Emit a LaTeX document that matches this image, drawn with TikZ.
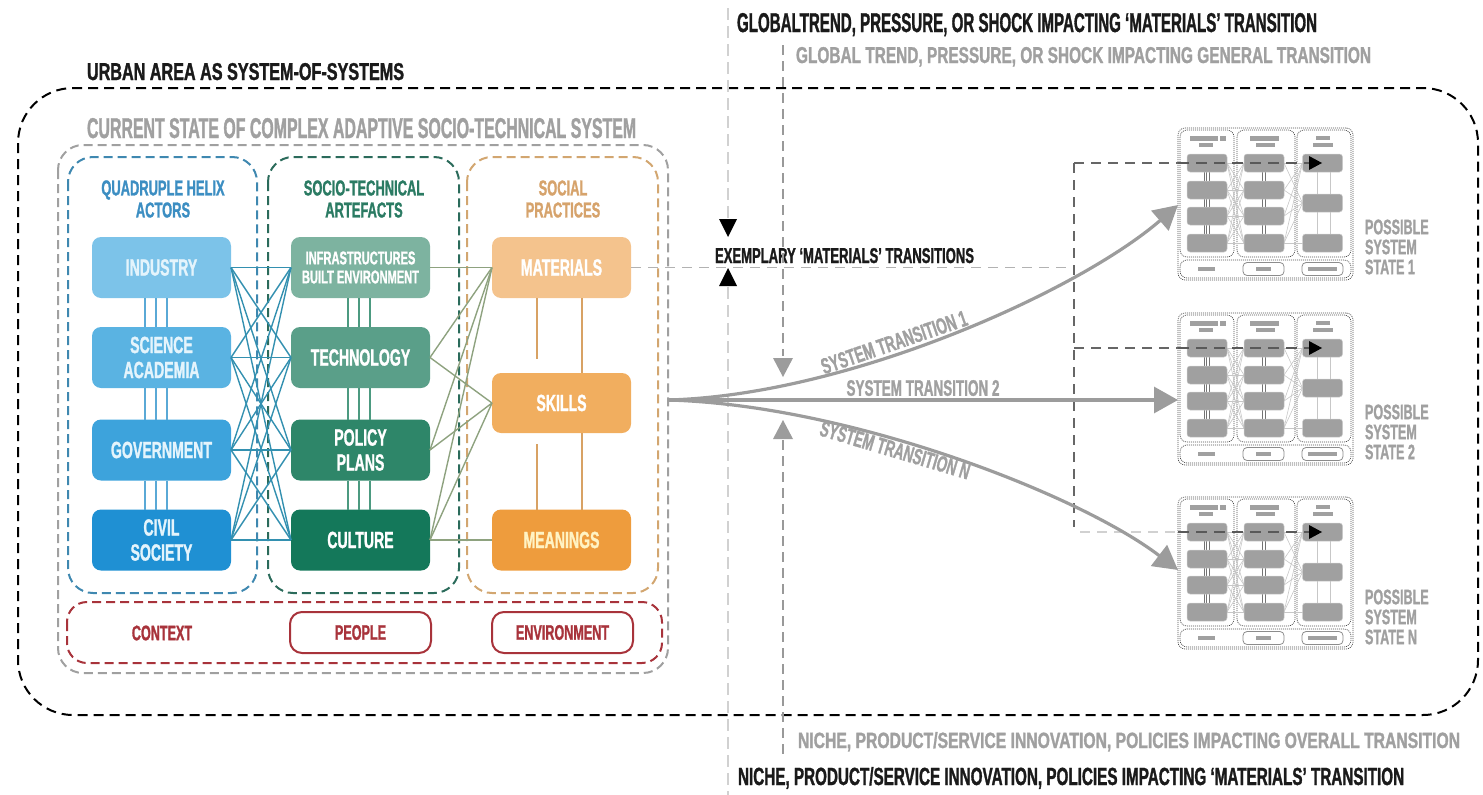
\documentclass[tikz,border=0pt]{standalone}
\usepackage{fontspec}
\usepackage{graphicx}
\setmainfont{Liberation Sans}
\newfontfamily\cond{Liberation Sans}[FakeStretch=0.6, FakeBold=1.2]
\usetikzlibrary{arrows.meta}

% palette
\definecolor{blueA}{HTML}{7CC3E9}
\definecolor{blueB}{HTML}{5AB3E2}
\definecolor{blueC}{HTML}{3DA3DC}
\definecolor{blueD}{HTML}{1F90D3}
\definecolor{greenA}{HTML}{7DB3A0}
\definecolor{greenB}{HTML}{5A9F89}
\definecolor{greenC}{HTML}{2E8669}
\definecolor{greenD}{HTML}{14785A}
\definecolor{orA}{HTML}{F4C38D}
\definecolor{orB}{HTML}{F1AE5F}
\definecolor{orC}{HTML}{EE9C3D}
\definecolor{bluetext}{HTML}{E4F4FC}
\definecolor{meantext}{HTML}{FFF3C4}
\definecolor{blueframe}{HTML}{3F88B0}
\definecolor{greenframe}{HTML}{2B6B5B}
\definecolor{orframe}{HTML}{D2A670}
\definecolor{redframe}{HTML}{A8333B}
\definecolor{grayframe}{HTML}{A0A0A0}
\definecolor{bluehead}{HTML}{3C8EC2}
\definecolor{greenhead}{HTML}{2B7B63}
\definecolor{orhead}{HTML}{D6A36C}
\definecolor{webblue}{HTML}{3390B0}
\definecolor{webgreen}{HTML}{8EA27F}
\definecolor{bluetri}{HTML}{5AA9D6}
\definecolor{greentri}{HTML}{4C9A80}
\definecolor{ortri}{HTML}{D8A264}
\definecolor{arrowgray}{HTML}{9C9C9C}
\definecolor{textgray}{HTML}{A0A0A0}
\definecolor{inkblack}{HTML}{1A1A1A}
\definecolor{mgray}{HTML}{A0A0A0}

\newcommand\cfont[2]{\cond\bfseries\fontsize{#1}{#2}\selectfont}
\newcommand\headline[3]{\resizebox{#1}{#2}{\cond\bfseries #3}}

\tikzset{
  every node/.style={inner sep=0pt, outer sep=0pt},
  cell/.style={rounded corners=9pt, minimum width=139pt, minimum height=61pt,
    text=white, align=center, font={\cfont{23.5}{25}}},
  frame/.style={line width=2pt, dash pattern=on 9pt off 5pt},
  web/.style={draw=webblue, line width=1.4pt},
  web2/.style={draw=webgreen, line width=1.4pt},
  trip/.style={line width=2pt},
  orline/.style={draw=ortri, line width=1.6pt},
  head/.style={align=center, font={\cfont{21.5}{22}}},
  ctxbox/.style={draw=redframe, line width=2pt, rounded corners=12pt,
    minimum width=141pt, minimum height=41pt, text=redframe, font={\cfont{21}{22}}},
  route/.style={draw=black!60, line width=1.2pt, dash pattern=on 10pt off 7pt},
  guideA/.style={draw=black!18, line width=1.2pt, dash pattern=on 12pt off 6pt},
  guideB/.style={draw=black!40, line width=1.2pt, dash pattern=on 10pt off 6pt},
  trarrow/.style={draw=arrowgray, line width=3.2pt,
    -{Triangle[length=24pt,width=26pt]}},
  trlabel/.style={font={\cfont{22.5}{22}}, text=textgray, sloped, inner sep=2pt},
  statelabel/.style={anchor=west, align=left, text=textgray, font={\cfont{21}{20}}},
  mframe/.style={draw=black!70, dash pattern=on 1pt off 1pt, line width=0.7pt,
    rounded corners=7pt},
  mnode/.style={fill=mgray, draw=black!20, line width=0.5pt, rounded corners=3pt,
    minimum width=40pt, minimum height=18pt},
  mlink/.style={draw=black!22, line width=0.6pt},
  mbar/.style={draw=black!55, line width=0.6pt},
  mthread/.style={draw=black!65, line width=1.4pt, dash pattern=on 11pt off 7pt},
  % miniature of one possible system state
  ministate/.pic={
    \node[mframe, minimum width=175pt, minimum height=152pt, anchor=north west] (-box) at (0,0) {};
    \draw[mframe] (2,2) rectangle (56,129);
    \draw[mframe] (59,2) rectangle (117,129);
    \draw[mframe] (119,2) rectangle (173,129);
    \draw[mframe] (2,132) rectangle (173,150);
    \fill[mgray] (12,8) rectangle (40,12.5);
    \fill[mgray] (41.5,8) rectangle (48,12.5);
    \fill[mgray] (21,15) rectangle (35,19);
    \fill[mgray] (72,8) rectangle (101,12.5);
    \fill[mgray] (78,15) rectangle (97,19);
    \fill[mgray] (138,8) rectangle (152,12);
    \fill[mgray] (135,15) rectangle (155,19);
    \foreach \i in {35,62,88,115}{\foreach \j in {35,62,88,115}{\draw[mlink] (49,\i) -- (66,\j);}}
    \foreach \i in {35,62,88,115}{\foreach \j in {35,75}{\draw[mlink] (106,\i) -- (124.5,\j);}}
    \draw[mlink] (106,115) -- (124.5,115);
    \foreach \x in {26,28.5,31}{\draw[mbar] (\x,35) -- (\x,115);}
    \foreach \x in {84,87.5}{\draw[mbar] (\x,35) -- (\x,115);}
    \foreach \x in {139,152}{\draw[mlink] (\x,35) -- (\x,115);}
    \foreach \r [count=\k] in {35,62,88,115}{
      \node[mnode] (-a\k) at (29,\r) {};
      \node[mnode] (-b\k) at (86,\r) {};
    }
    \foreach \r [count=\k] in {35,75,115}{\node[mnode] (-c\k) at (144.5,\r) {};}
    \draw[mthread] (0,35) -- (131,35);
    \fill[black] (131,28) -- (144,35) -- (131,42) -- cycle;
    \fill[mgray] (20,138.5) rectangle (37,142.5);
    \draw[draw=black!45, line width=0.8pt, rounded corners=4pt] (65,134.5) rectangle (106,147.5);
    \fill[mgray] (78,139) rectangle (93,143);
    \draw[draw=black!45, line width=0.8pt, rounded corners=4pt] (124,134.5) rectangle (165,147.5);
    \fill[mgray] (130,139) rectangle (159,143);
  }
}

\begin{document}
\begin{tikzpicture}[x=1pt,y=-1pt]
\useasboundingbox (0,0) rectangle (1483,795);

% ---------- frames ----------
\draw[frame, draw=black, line width=2pt, dash pattern=on 10pt off 6pt, rounded corners=55pt]
  (18,88) rectangle (1478,715);
\draw[frame, draw=grayframe, rounded corners=25pt] (58,145) rectangle (668,673);
\draw[frame, draw=blueframe, rounded corners=25pt] (68,157) rectangle (257,593);
\draw[frame, draw=greenframe, rounded corners=25pt] (268,157) rectangle (459,593);
\draw[frame, draw=orframe, rounded corners=25pt] (467,157) rectangle (658,593);
\draw[frame, draw=redframe, rounded corners=20pt] (67,602) rectangle (662,663);

% ---------- titles ----------
\node[anchor=base west, text=inkblack] (urban) at (87,80)
  {\headline{317pt}{17pt}{URBAN AREA AS SYSTEM-OF-SYSTEMS}};
\node[anchor=base west, text=textgray] (current) at (87,138)
  {\headline{549pt}{20pt}{CURRENT STATE OF COMPLEX ADAPTIVE SOCIO-TECHNICAL SYSTEM}};
\node[anchor=base west, text=inkblack] (gmat) at (737,32)
  {\headline{580pt}{19pt}{GLOBALTREND, PRESSURE, OR SHOCK IMPACTING ‘MATERIALS’ TRANSITION}};
\node[anchor=base west, text=textgray] (ggen) at (796,63)
  {\headline{575pt}{16pt}{GLOBAL TREND, PRESSURE, OR SHOCK IMPACTING GENERAL TRANSITION}};
\node[anchor=base west, text=textgray] (ngen) at (798,748)
  {\headline{662pt}{16pt}{NICHE, PRODUCT/SERVICE INNOVATION, POLICIES IMPACTING OVERALL TRANSITION}};
\node[anchor=base west, text=inkblack] (nmat) at (738,785)
  {\headline{666pt}{18pt}{NICHE, PRODUCT/SERVICE INNOVATION, POLICIES IMPACTING ‘MATERIALS’ TRANSITION}};
\node[anchor=base west, text=inkblack] (exm) at (715,263)
  {\headline{259pt}{15pt}{EXEMPLARY ‘MATERIALS’ TRANSITIONS}};

% ---------- column headers ----------
\node[head, text=bluehead] (hq) at (163,199) {QUADRUPLE HELIX\\ACTORS};
\node[head, text=greenhead] (hs) at (364,199) {SOCIO-TECHNICAL\\ARTEFACTS};
\node[head, text=orhead] (hp) at (563,199) {SOCIAL\\PRACTICES};

% ---------- cells ----------
\node[cell, fill=blueA, text=bluetext] (ind) at (161.5,267.5) {INDUSTRY};
\node[cell, fill=blueB, text=bluetext] (sci) at (161.5,357.5) {SCIENCE\\ACADEMIA};
\node[cell, fill=blueC, text=bluetext] (gov) at (161.5,450) {GOVERNMENT};
\node[cell, fill=blueD, text=bluetext] (civ) at (161.5,540) {CIVIL\\SOCIETY};
\node[cell, fill=greenA, font={\cfont{18.5}{19}}] (inf) at (360.5,267.5) {INFRASTRUCTURES\\BUILT ENVIRONMENT};
\node[cell, fill=greenB] (tec) at (360.5,357.5) {TECHNOLOGY};
\node[cell, fill=greenC] (pol) at (360.5,450) {POLICY\\PLANS};
\node[cell, fill=greenD] (cul) at (360.5,540) {CULTURE};
\node[cell, fill=orA] (mat) at (561.5,267.5) {MATERIALS};
\node[cell, fill=orB, minimum height=60pt] (ski) at (561.5,403) {SKILLS};
\node[cell, fill=orC, text=meantext] (mea) at (561.5,540) {MEANINGS};

% ---------- links between cells ----------
\foreach \a/\b in {ind/sci, sci/gov, gov/civ}{
  \foreach \dx in {-17,-5.5,5}{\draw[trip, draw=bluetri] ([xshift=\dx pt]\a.south) -- ([xshift=\dx pt]\b.north);}}
\foreach \a/\b in {inf/tec, tec/pol, pol/cul}{
  \foreach \dx in {-12.5,-1.5,9}{\draw[trip, draw=greentri] ([xshift=\dx pt]\a.south) -- ([xshift=\dx pt]\b.north);}}
\draw[orline] ([xshift=20.5pt]mat.south) -- ([xshift=20.5pt]ski.north);
\draw[orline] ([xshift=-24.5pt]mat.south) -- ++(0,61);
\draw[orline] ([xshift=20.5pt]ski.south) -- ([xshift=20.5pt]mea.north);
\draw[orline] ([xshift=-24.5pt]mea.north) -- ++(0,-66);
\foreach \a in {ind,sci,gov,civ}{\foreach \b in {inf,tec,pol,cul}{\draw[web] (\a.east) -- (\b.west);}}
\foreach \a/\b in {inf/mat, tec/mat, tec/ski, pol/mat, pol/ski, cul/mat, cul/ski, cul/mea}{
  \draw[web2] (\a.east) -- (\b.west);}

% ---------- context row ----------
\node[text=redframe, font={\cfont{21}{22}}] (ctx) at (162,633) {CONTEXT};
\node[ctxbox] (ppl) at (360.5,632.5) {PEOPLE};
\node[ctxbox] (env) at (562.5,632.5) {ENVIRONMENT};

% ---------- guide lines and pressure markers ----------
\draw[guideA] (728,8) -- (728,218);
\draw[guideA] (728,287) -- (728,795);
\draw[guideB] (783,45) -- (783,356);
\draw[guideB] (783,440) -- (783,756);
\fill[black] (719,219) -- (737,219) -- (728,237) -- cycle;
\fill[black] (728,268) -- (737,286) -- (719,286) -- cycle;
\fill[arrowgray] (773,358) -- (793,358) -- (783,377) -- cycle;
\fill[arrowgray] (783,420) -- (793,439) -- (773,439) -- cycle;

% ---------- possible system states ----------
\pic (s1) at (1178,128) {ministate};
\pic (s2) at (1178,313) {ministate};
\pic (sN) at (1178,497) {ministate};
\node[statelabel] (l1) at (1365,247) {POSSIBLE\\SYSTEM\\STATE 1};
\node[statelabel] (l2) at (1365,432) {POSSIBLE\\SYSTEM\\STATE 2};
\node[statelabel] (lN) at (1365,617) {POSSIBLE\\SYSTEM\\STATE N};

% ---------- materials thread ----------
\coordinate (jt) at (1074,163);
\coordinate (jb) at (1074,527);
\draw[route, draw=black!30] (mat.east) -- (mat.east -| jt);
\draw[route] (jt) -- (jb);
\draw[route] (jt) -- (jt -| s1-box.west);
\draw[route] (jt |- s2-a1) -- (s2-box.west |- s2-a1);
\draw[route, draw=black!18] ([xshift=6pt]jb |- sN-a1) -- (sN-box.west |- sN-a1);

% ---------- system transitions ----------
\coordinate (fan) at (668,400);
\draw[trarrow] (fan) .. controls (850,395) and (1080,290) .. ([yshift=-1pt]s1-box.west)
  node[trlabel, pos=0.4, above=2pt] {SYSTEM TRANSITION 1};
\draw[trarrow] (fan) -- ([yshift=-11pt]s2-box.west)
  node[trlabel, pos=0.5, above=2pt] {SYSTEM TRANSITION 2};
\draw[trarrow] (fan) .. controls (850,405) and (1080,495) .. ([yshift=3pt]sN-box.west)
  node[trlabel, pos=0.4, below] {SYSTEM TRANSITION N};
\end{tikzpicture}
\end{document}
